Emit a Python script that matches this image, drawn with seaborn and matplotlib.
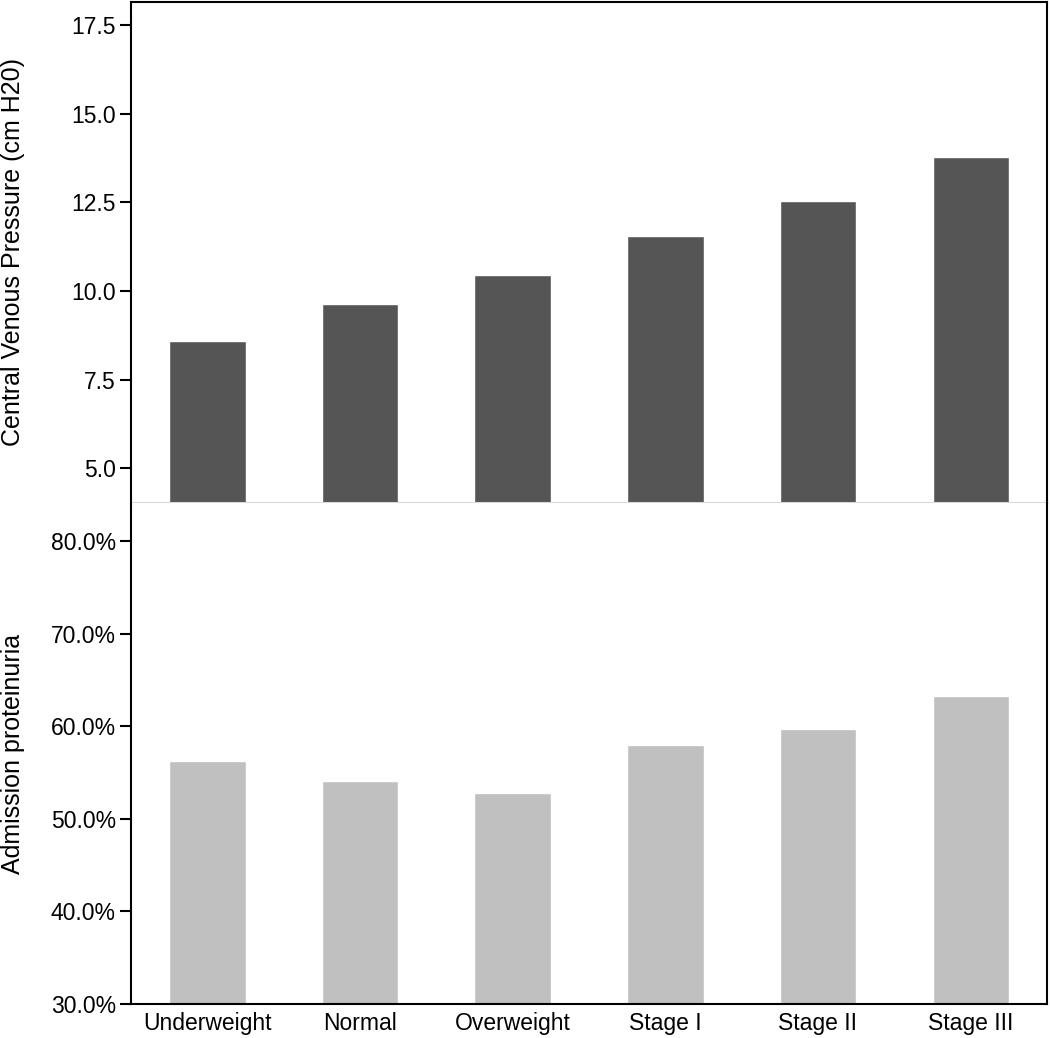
import matplotlib
matplotlib.use('Agg')
import matplotlib.pyplot as plt
import matplotlib.ticker as mticker
import pandas as pd
import seaborn as sns

categories = ['Underweight', 'Normal', 'Overweight', 'Stage I', 'Stage II', 'Stage III']
cvp = [8.6, 9.62, 10.45, 11.55, 12.55, 13.77]
proteinuria = [56.2, 54.1, 52.8, 58.0, 59.7, 63.3]

sns.set_theme(style='white')
plt.rcParams['font.family'] = ['Liberation Sans', 'DejaVu Sans']
plt.rcParams['text.color'] = 'black'
plt.rcParams['axes.labelcolor'] = 'black'
plt.rcParams['xtick.color'] = 'black'
plt.rcParams['ytick.color'] = 'black'

df = pd.DataFrame({'group': categories, 'cvp': cvp, 'prot': proteinuria})

fig, axes = plt.subplots(2, 1, figsize=(10.5, 10.38), dpi=100, sharex=True)
plt.subplots_adjust(left=131/1050, right=1047/1050, top=1-2/1038, bottom=1-1004/1038, hspace=0)

ax1, ax2 = axes
sns.barplot(data=df, x='group', y='cvp', color='#555555', width=0.5, saturation=1, ax=ax1)
sns.barplot(data=df, x='group', y='prot', color='#c0c0c0', width=0.5, saturation=1, ax=ax2)

ax1.set_ylim(4.02, 18.15)
ax1.set_yticks([5.0, 7.5, 10.0, 12.5, 15.0, 17.5])
ax1.yaxis.set_major_formatter(mticker.FormatStrFormatter('%.1f'))
ax1.set_ylabel('Central Venous Pressure (cm H20)', fontsize=18)

ax2.set_ylim(30, 84.1)
ax2.set_yticks([30, 40, 50, 60, 70, 80])
ax2.yaxis.set_major_formatter(mticker.FormatStrFormatter('%.1f%%'))
ax2.set_ylabel('Admission proteinuria', fontsize=18)
ax2.set_xlim(-0.5, 5.5)
ax2.set_xlabel('')
ax1.set_xlabel('')

for ax in axes:
    for s in ax.spines.values():
        s.set_color('black')
        s.set_linewidth(1.5)
    ax.tick_params(axis='y', which='both', left=True, length=8, width=1.5, color='black',
                   labelsize=16.5, pad=3)
    ax.tick_params(axis='x', bottom=False, length=0, labelsize=16.5, pad=6)
    ax.yaxis.set_label_coords(-0.116, 0.5)
    ax.grid(False)

ax1.spines['bottom'].set_color('#d8d8d8')
ax1.spines['bottom'].set_linewidth(1.5)
ax1.spines['bottom'].set_zorder(5)
ax2.spines['top'].set_visible(False)

fig.savefig('out.png', dpi=100, facecolor='white')
